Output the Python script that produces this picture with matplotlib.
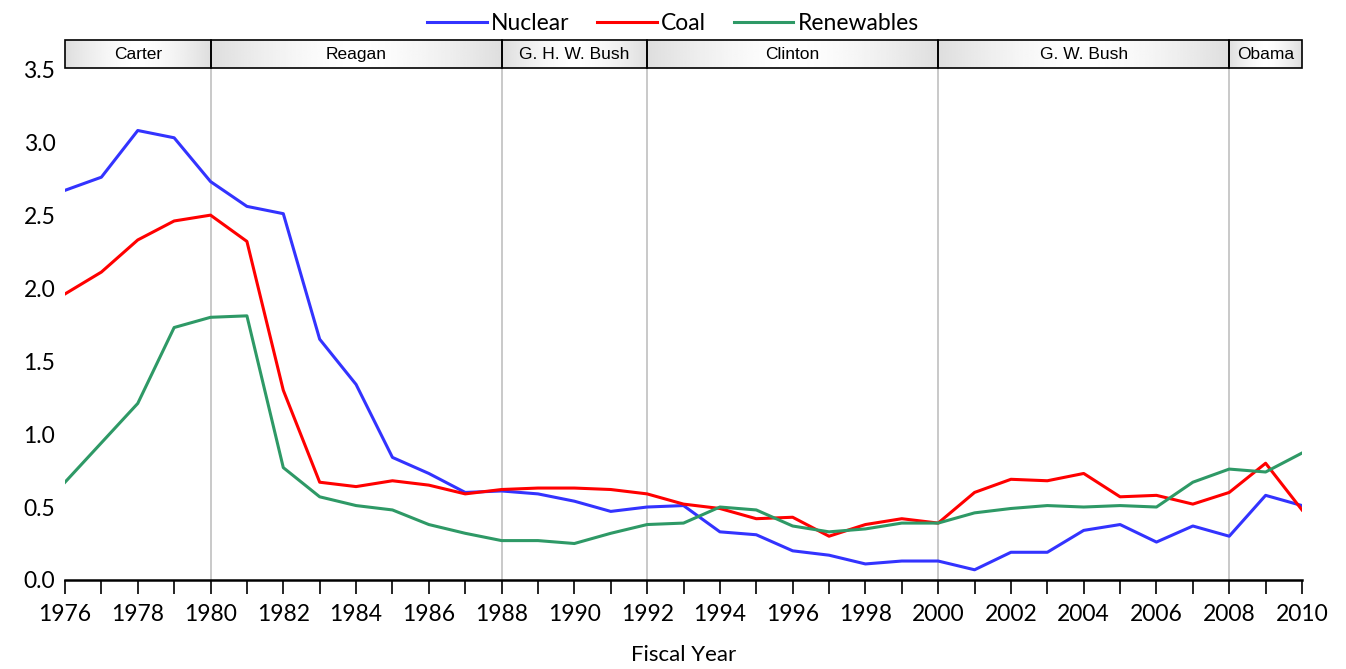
import matplotlib
matplotlib.use("Agg")
import matplotlib.pyplot as plt
import numpy as np

years = np.arange(1976, 2011)

nuclear = [2.67, 2.76, 3.08, 3.03, 2.73, 2.56, 2.51, 1.65, 1.34, 0.84,
           0.73, 0.60, 0.61, 0.59, 0.54, 0.47, 0.50, 0.51, 0.33, 0.31,
           0.20, 0.17, 0.11, 0.13, 0.13, 0.07, 0.19, 0.19, 0.34, 0.38,
           0.26, 0.37, 0.30, 0.58, 0.51]
coal = [1.96, 2.11, 2.33, 2.46, 2.50, 2.32, 1.30, 0.67, 0.64, 0.68,
        0.65, 0.59, 0.62, 0.63, 0.63, 0.62, 0.59, 0.52, 0.49, 0.42,
        0.43, 0.30, 0.38, 0.42, 0.39, 0.60, 0.69, 0.68, 0.73, 0.57,
        0.58, 0.52, 0.60, 0.80, 0.48]
renewables = [0.67, 0.94, 1.21, 1.73, 1.80, 1.81, 0.77, 0.57, 0.51, 0.48,
              0.38, 0.32, 0.27, 0.27, 0.25, 0.32, 0.38, 0.39, 0.50, 0.48,
              0.37, 0.33, 0.35, 0.39, 0.39, 0.46, 0.49, 0.51, 0.50, 0.51,
              0.50, 0.67, 0.76, 0.74, 0.87]

presidents = ["Carter", "Reagan", "G. H. W. Bush", "Clinton", "G. W. Bush", "Obama"]
term_starts = [1976, 1980, 1988, 1992, 2000, 2008]
term_ends = [1980, 1988, 1992, 2000, 2008, 2010]

plt.rcParams["font.family"] = ["Lato", "DejaVu Sans"]

fig = plt.figure(figsize=(13.46, 6.69), dpi=100)
ax = fig.add_axes([65 / 1346, 89 / 669, (1302 - 65) / 1346, 540 / 669])

ax.plot(years, nuclear, color="#3333ff", lw=2.2, label="Nuclear")
ax.plot(years, coal, color="#ff0000", lw=2.2, label="Coal")
ax.plot(years, renewables, color="#2e9966", lw=2.2, label="Renewables")

# president band across the top
band_lo, band_hi = 3.505, 3.70
grad = np.linspace(0, 1, 200)
grad = 1.0 - 0.13 * np.abs(2 * grad - 1) ** 1.5
for name, s, e in zip(presidents, term_starts, term_ends):
    if s > years[0]:
        ax.plot([s, s], [0, band_lo], color="#c0c0c0", lw=1.2, zorder=0)
    ax.imshow(np.tile(grad, (2, 1)), cmap="gray", vmin=0, vmax=1,
              extent=[s, e, band_lo, band_hi], aspect="auto", zorder=1)
    ax.add_patch(plt.Rectangle((s, band_lo), e - s, band_hi - band_lo,
                               fill=False, edgecolor="black", lw=1.2, zorder=2,
                               clip_on=False))
    ax.text((s + e) / 2, (band_lo + band_hi) / 2, name, ha="center", va="center",
            fontsize=12.5, family="Liberation Sans", zorder=3)

ax.set_xlim(1976, 2010)
ax.set_ylim(0, 3.70)
ax.set_yticks(np.arange(0, 3.51, 0.5))
ax.set_yticklabels([f"{v:.1f}" for v in np.arange(0, 3.51, 0.5)])
ax.set_xticks(np.arange(1976, 2011, 2))
ax.set_xticks(years, minor=True)
ax.tick_params(axis="y", length=0, labelsize=16.5, pad=7)
ax.tick_params(axis="x", which="both", direction="out", length=10, width=1.2,
               labelsize=16.5, pad=7)
for sp in ["left", "right", "top"]:
    ax.spines[sp].set_visible(False)
ax.spines["bottom"].set_linewidth(1.8)
ax.set_xlabel("Fiscal Year", fontsize=16, labelpad=15)

fig.legend(loc="upper center", bbox_to_anchor=(0.5, 1.012), ncol=3, frameon=False,
           fontsize=16.5, handlelength=2.6, handletextpad=0.2, columnspacing=1.2)

fig.savefig("out.png", dpi=100)
